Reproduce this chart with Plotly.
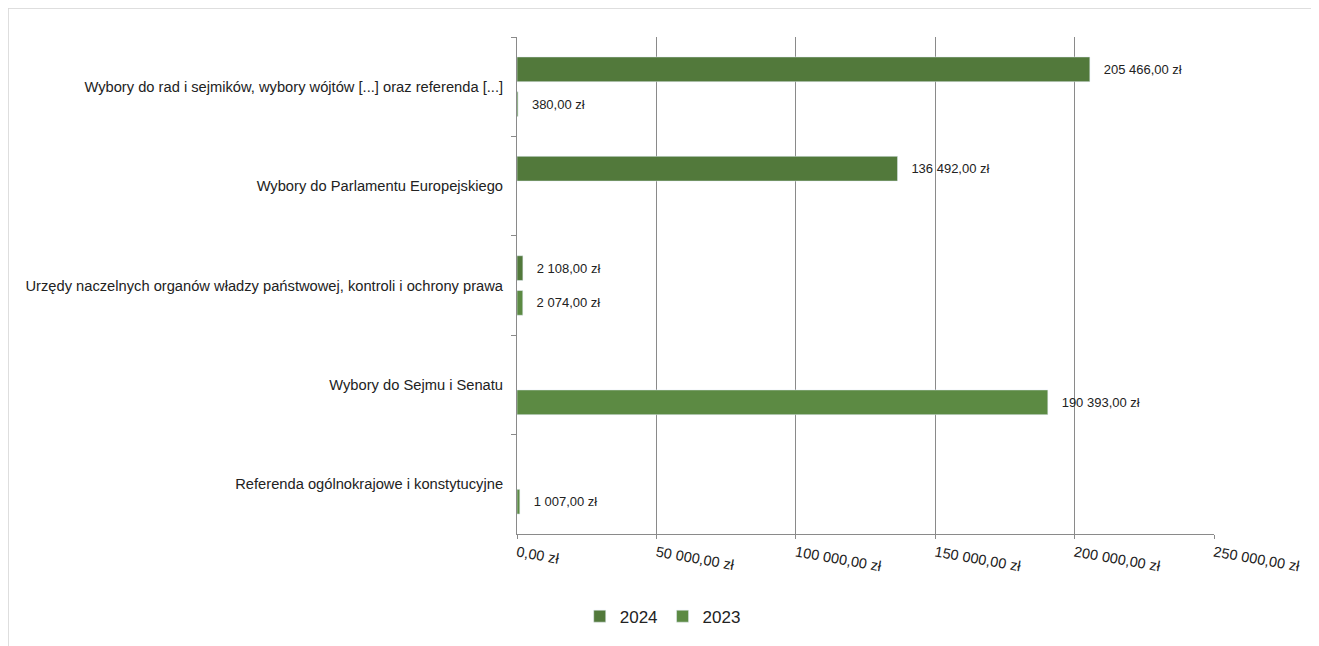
import plotly.graph_objects as go

categories = [
    "Wybory do rad i sejmików, wybory wójtów [...] oraz referenda [...]",
    "Wybory do Parlamentu Europejskiego",
    "Urzędy naczelnych organów władzy państwowej, kontroli i ochrony prawa",
    "Wybory do Sejmu i Senatu",
    "Referenda ogólnokrajowe i konstytucyjne",
]
values_2024 = [205466, 136492, 2108, None, None]
values_2023 = [380, None, 2074, 190393, 1007]
x_ticks = [0, 50000, 100000, 150000, 200000, 250000]


def zl(v):
    # polish currency format: "205 466,00 zł"
    if v is None:
        return ""
    return "{:,.2f}".format(v).replace(",", " ").replace(".", ",") + " zł"


font = "Liberation Sans, Arial, sans-serif"

fig = go.Figure()
fig.add_trace(go.Bar(
    y=categories, x=values_2024, name="2024", orientation="h",
    marker=dict(color="#52793b"),
    text=["   " + zl(v) if v else "" for v in values_2024],
    textposition="outside", cliponaxis=False,
    textfont=dict(family=font, size=13, color="#222"),
))
fig.add_trace(go.Bar(
    y=categories, x=values_2023, name="2023", orientation="h",
    marker=dict(color="#5c8a43"),
    text=["   " + zl(v) if v else "" for v in values_2023],
    textposition="outside", cliponaxis=False,
    textfont=dict(family=font, size=13, color="#222"),
))

# page body has an 8px margin, so the figure is a bit smaller than the window
border = dict(color="#cfcfcf", width=1)
fig.update_layout(
    width=1311, height=638,
    margin=dict(l=509, r=105, t=29, b=112, autoexpand=False),
    paper_bgcolor="white", plot_bgcolor="white",
    font=dict(family=font, color="#222"),
    barmode="group", bargap=0.3, bargroupgap=0.29,
    showlegend=True,
    legend=dict(orientation="h", x=0.09, y=-0.13, xanchor="left", yanchor="top",
                font=dict(size=17), itemwidth=30, tracegroupgap=0),
    shapes=[
        dict(type="line", xref="paper", yref="paper",
             x0=-0.730, x1=1.4, y0=1.058, y1=1.058, line=border),
        dict(type="line", xref="paper", yref="paper",
             x0=-0.730, x1=-0.730, y0=-0.4, y1=1.058, line=border),
    ],
)
fig.update_xaxes(
    range=[0, 250000], tickvals=x_ticks, ticktext=[zl(v) for v in x_ticks],
    tickangle=10, tickfont=dict(size=14.5), showgrid=True, gridcolor="#8a8a8a",
    gridwidth=1, showline=True, linecolor="#8a8a8a", ticks="outside",
    ticklen=4, tickcolor="#8a8a8a", zeroline=False, automargin=False,
)
fig.update_yaxes(
    autorange="reversed", showline=True, linecolor="#8a8a8a",
    ticks="outside", tickson="boundaries", ticklen=5, tickcolor="#8a8a8a",
    tickfont=dict(size=14.7), ticklabelstandoff=10, showgrid=False,
    automargin=False,
)

fig.write_html("out.html")
